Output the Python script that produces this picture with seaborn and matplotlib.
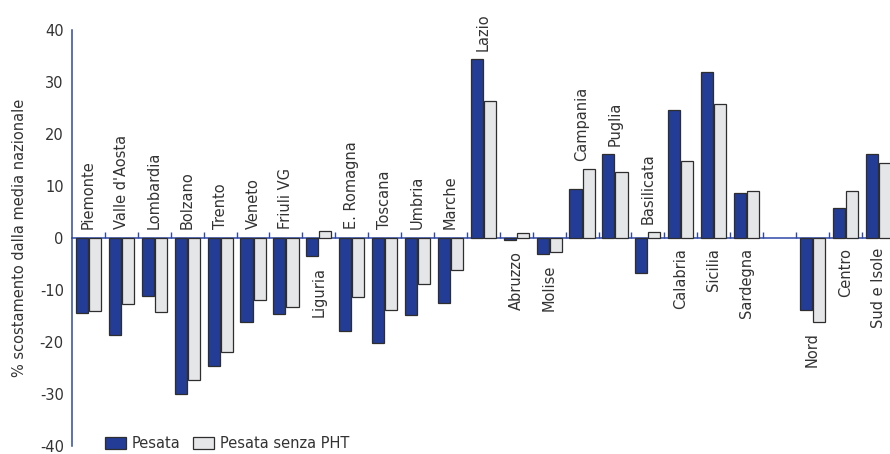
import numpy as np
import pandas as pd
import matplotlib
matplotlib.use("Agg")
import matplotlib.pyplot as plt
import seaborn as sns

# Regions, then a spacer slot, then macro-areas
regioni = ["Piemonte", "Valle d'Aosta", "Lombardia", "Bolzano", "Trento", "Veneto",
           "Friuli VG", "Liguria", "E. Romagna", "Toscana", "Umbria", "Marche",
           "Lazio", "Abruzzo", "Molise", "Campania", "Puglia", "Basilicata",
           "Calabria", "Sicilia", "Sardegna"]
aree = ["Nord", "Centro", "Sud e Isole"]

pesata_regioni = [-14.4, -18.8, -11.2, -30.0, -24.7, -16.3, -14.7, -3.6, -17.9,
                  -20.2, -14.9, -12.6, 34.3, -0.5, -3.2, 9.3, 16.0, -6.7,
                  24.6, 31.9, 8.5]
senza_pht_regioni = [-14.1, -12.8, -14.2, -27.4, -22.0, -11.9, -13.3, 1.3, -11.5,
                     -13.9, -8.9, -6.2, 26.2, 0.9, -2.8, 13.2, 12.6, 1.1,
                     14.8, 25.7, 8.9]
pesata_aree = [-13.9, 5.8, 16.1]
senza_pht_aree = [-16.2, 9.0, 14.4]

# Which side of the zero line each category label sits on
lato_regioni = ["up"] * 7 + ["down"] + ["up"] * 5 + ["down", "down"] + \
               ["up", "up", "up"] + ["down", "down", "down"]
lato_aree = ["down", "down", "down"]

serie = ["Pesata", "Pesata senza PHT"]
colori = {"Pesata": "#233c96", "Pesata senza PHT": "#e5e6e8"}

categorie = regioni + aree
ordine = regioni + [" "] + aree
pesata = pesata_regioni + pesata_aree
senza = senza_pht_regioni + senza_pht_aree
lati = lato_regioni + lato_aree

df = pd.DataFrame({
    "area": categorie * 2,
    "valore": pesata + senza,
    "serie": [serie[0]] * len(categorie) + [serie[1]] * len(categorie),
})

sns.set_style("white")
plt.rcParams["font.family"] = ["DejaVu Sans"]
plt.rcParams["axes.unicode_minus"] = False
testo = "#333333"
asse = "#2f48a8"
fs = 10.5

fig = plt.figure(figsize=(8.90, 4.54), dpi=100)
ax = fig.add_axes([0.081, 0.0183, 0.919, 0.9163])

sns.barplot(data=df, x="area", y="valore", hue="serie", order=ordine,
            hue_order=serie, palette=colori, saturation=1, width=0.8, gap=0.08,
            edgecolor="#2e2e2e", linewidth=0.9, ax=ax, legend=True)

ax.set_ylim(-40, 40)
ax.set_xlim(-0.5, 24.36)
ax.set_yticks(np.arange(-40, 41, 10))
ax.tick_params(axis="y", direction="out", length=4, width=1, color=asse,
               labelsize=fs, labelcolor=testo, pad=2)

# Group separators on the zero line
ax.set_xticks([])
ax.set_xticks(np.arange(0.5, len(ordine) - 0.5, 1.0), minor=True)
ax.tick_params(axis="x", which="minor", direction="in", length=4, width=1,
               color=asse, bottom=True)
ax.set_xlabel("")
ax.set_ylabel("% scostamento dalla media nazionale", fontsize=fs,
              color=testo, labelpad=9)

for side in ["top", "right"]:
    ax.spines[side].set_visible(False)
ax.spines["left"].set_color(asse)
ax.spines["left"].set_linewidth(1.1)
ax.spines["bottom"].set_position(("data", 0))
ax.spines["bottom"].set_color(asse)
ax.spines["bottom"].set_linewidth(1.1)
ax.spines["bottom"].set_zorder(0.5)

# Category labels next to each group of bars
for nome, a, b, lato in zip(categorie, pesata, senza, lati):
    xi = ordine.index(nome)
    if lato == "up":
        ax.annotate(nome, (xi, max(0, a, b)), xytext=(0, 6),
                    textcoords="offset points", rotation=90,
                    ha="center", va="bottom", fontsize=fs, color=testo)
    else:
        ax.annotate(nome, (xi, min(0, a, b)), xytext=(0, -7.5),
                    textcoords="offset points", rotation=90,
                    ha="center", va="top", fontsize=fs, color=testo)

leg = ax.legend(loc="lower left", bbox_to_anchor=(0.115, 0.0), bbox_transform=fig.transFigure,
                ncol=2, frameon=False, fontsize=fs, handlelength=1.4,
                handleheight=0.85, handletextpad=0.4, columnspacing=0.9,
                borderaxespad=0, borderpad=0.2)
for t in leg.get_texts():
    t.set_color(testo)

fig.savefig("out.png", dpi=100)
